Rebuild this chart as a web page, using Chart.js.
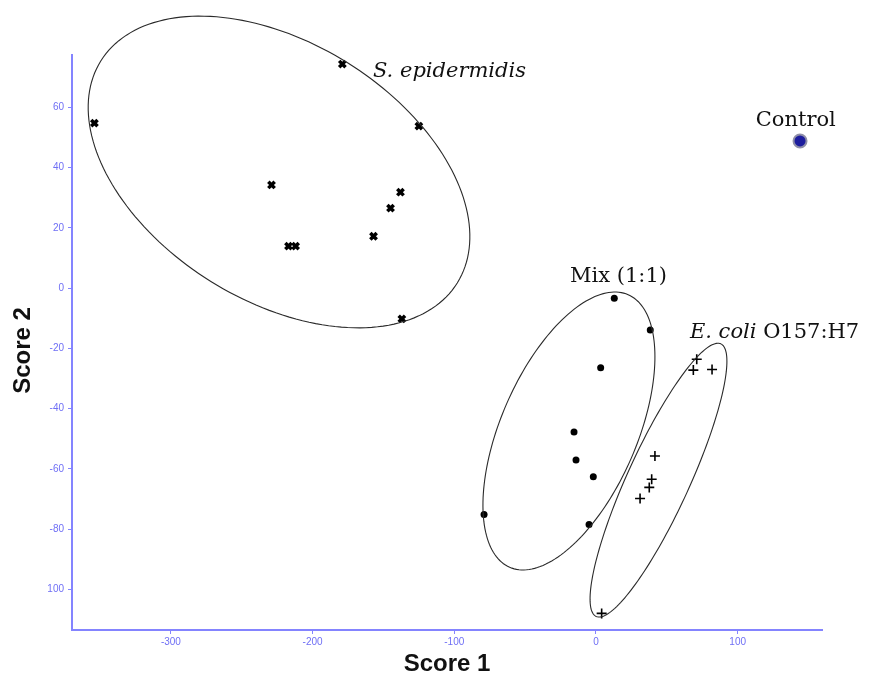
<!DOCTYPE html>
<html lang="en">
<head>
    <meta charset="UTF-8">
    <title>Score plot</title>
    <script src="https://cdn.jsdelivr.net/npm/chart.js"></script>
    <style>
        body {
            margin: 0;
            background: #ffffff;
        }
        .chart-box {
            width: 873px;
            height: 681px;
        }
    </style>
</head>
<body>
    <div class="chart-box">
        <canvas id="scoreChart"></canvas>
    </div>

    <script>
        // group scores (Score 1, Score 2)
        const epidermidisX = [-179, -354, -125, -229, -138, -145, -157, -217, -212, -137];
        const epidermidisY = [74.3, 54.7, 53.7, 34.2, 31.8, 26.5, 17.2, 13.9, 13.9, -10.2];

        const mixX = [12.9, 38.3, 3.3, -15.5, -14.1, -1.9, -79.0, -4.9];
        const mixY = [-3.4, -13.9, -26.4, -47.7, -57.0, -62.6, -75.1, -78.4];

        const ecoliX = [71.1, 68.7, 81.9, 41.6, 39.3, 37.6, 31.1, 4.0];
        const ecoliY = [-23.6, -27.2, -27.0, -55.7, -63.4, -66.1, -69.8, -107.9];

        const controlX = [144];
        const controlY = [48.8];

        // confidence ellipses: centre and two semi-axis vectors, in score units
        const ellipseCentres = [[-223.7, 38.5], [-19.1, -47.4], [44.1, -63.7]];
        const ellipseAxisA = [[125.8, -36.8], [41.8, 45.2], [44.0, 45.2]];
        const ellipseAxisB = [[-48.1, -36.3], [44.0, -9.0], [19.9, -4.3]];

        const xTicks = [-300, -200, -100, 0, 100];
        const xTickLabels = ['-300', '-200', '-100', '0', '100'];
        const yTicks = [60, 40, 20, 0, -20, -40, -60, -80, -100];
        const yTickLabels = ['60', '40', '20', '0', '-20', '-40', '-60', '-80', '100'];

        // group names, anchored at score coordinates
        const groupLabels = [
            { parts: [['S. epidermidis', true]], x: -157.4, y: 70.0, align: 'left' },
            { parts: [['Control', false]], x: 141, y: 53.7, align: 'center' },
            { parts: [['Mix (1:1)', false]], x: -18.3, y: 2.0, align: 'left' },
            { parts: [['E. coli', true], [' O157:H7', false]], x: 66.3, y: -16.6, align: 'left' }
        ];

        const axisBlue = '#8484ff';
        const tickBlue = '#6f6ff5';

        function toPoints(xs, ys) {
            return xs.map((x, i) => ({ x: x, y: ys[i] }));
        }

        const ellipsePlugin = {
            id: 'ellipses',
            afterDatasetsDraw(chart) {
                const ctx = chart.ctx;
                const xs = chart.scales.x;
                const ys = chart.scales.y;
                ctx.save();
                ctx.strokeStyle = '#2a2a2a';
                ctx.lineWidth = 1.1;
                ellipseCentres.forEach((c, i) => {
                    const cx = xs.getPixelForValue(c[0]);
                    const cy = ys.getPixelForValue(c[1]);
                    const ax = xs.getPixelForValue(c[0] + ellipseAxisA[i][0]) - cx;
                    const ay = ys.getPixelForValue(c[1] + ellipseAxisA[i][1]) - cy;
                    const bx = xs.getPixelForValue(c[0] + ellipseAxisB[i][0]) - cx;
                    const by = ys.getPixelForValue(c[1] + ellipseAxisB[i][1]) - cy;
                    ctx.beginPath();
                    for (let k = 0; k <= 180; k++) {
                        const t = k / 180 * Math.PI * 2;
                        const px = cx + ax * Math.cos(t) + bx * Math.sin(t);
                        const py = cy + ay * Math.cos(t) + by * Math.sin(t);
                        if (k === 0) ctx.moveTo(px, py); else ctx.lineTo(px, py);
                    }
                    ctx.closePath();
                    ctx.stroke();
                });
                ctx.restore();
            },
            afterDraw(chart) {
                const ctx = chart.ctx;
                const xs = chart.scales.x;
                const ys = chart.scales.y;
                const area = chart.chartArea;
                ctx.save();
                ctx.fillStyle = '#111111';
                ctx.textBaseline = 'alphabetic';
                groupLabels.forEach(lab => {
                    let px = xs.getPixelForValue(lab.x);
                    const py = ys.getPixelForValue(lab.y);
                    const fonts = lab.parts.map(p => (p[1] ? 'italic ' : '') + '21px "DejaVu Serif"');
                    let total = 0;
                    lab.parts.forEach((p, i) => { ctx.font = fonts[i]; total += ctx.measureText(p[0]).width; });
                    if (lab.align === 'center') px -= total / 2;
                    ctx.textAlign = 'left';
                    lab.parts.forEach((p, i) => {
                        ctx.font = fonts[i];
                        ctx.fillText(p[0], px, py);
                        px += ctx.measureText(p[0]).width;
                    });
                });

                // axis titles
                ctx.font = 'bold 24px "Liberation Sans"';
                ctx.textAlign = 'center';
                ctx.textBaseline = 'middle';
                ctx.fillText('Score 1', (area.left + area.right) / 2, 664);
                ctx.translate(23, (area.top + area.bottom) / 2 + 8);
                ctx.rotate(-Math.PI / 2);
                ctx.fillText('Score 2', 0, 0);
                ctx.restore();
            }
        };

        const ctx = document.getElementById('scoreChart').getContext('2d');
        new Chart(ctx, {
            type: 'scatter',
            data: {
                datasets: [
                    {
                        label: 'S. epidermidis',
                        data: toPoints(epidermidisX, epidermidisY),
                        pointStyle: 'crossRot',
                        pointRadius: 4.5,
                        borderWidth: 3.5,
                        borderColor: '#000000',
                        backgroundColor: '#000000',
                        clip: false
                    },
                    {
                        label: 'Mix (1:1)',
                        data: toPoints(mixX, mixY),
                        pointStyle: 'circle',
                        pointRadius: 3.5,
                        borderWidth: 0,
                        backgroundColor: '#000000',
                        clip: false
                    },
                    {
                        label: 'E. coli O157:H7',
                        data: toPoints(ecoliX, ecoliY),
                        pointStyle: 'cross',
                        pointRadius: 5,
                        borderWidth: 1.6,
                        borderColor: '#000000',
                        clip: false
                    },
                    {
                        label: 'Control',
                        data: toPoints(controlX, controlY),
                        pointStyle: 'circle',
                        pointRadius: 6.5,
                        borderWidth: 2,
                        borderColor: '#8f8fa8',
                        backgroundColor: '#1d1d9e',
                        clip: false
                    }
                ]
            },
            options: {
                responsive: true,
                maintainAspectRatio: false,
                animation: false,
                layout: {
                    padding: { top: 55, right: 51, left: 0, bottom: 0 }
                },
                plugins: {
                    legend: { display: false },
                    tooltip: { enabled: false }
                },
                scales: {
                    x: {
                        type: 'linear',
                        min: -369.8,
                        max: 159.5,
                        afterFit: scale => { scale.height = 51; },
                        afterBuildTicks: scale => { scale.ticks = xTicks.map(v => ({ value: v })); },
                        grid: {
                            drawOnChartArea: false,
                            drawTicks: true,
                            tickLength: 4,
                            tickColor: axisBlue,
                            tickWidth: 1
                        },
                        border: { color: axisBlue, width: 2 },
                        ticks: {
                            color: tickBlue,
                            padding: 2,
                            maxRotation: 0,
                            font: { family: 'Liberation Sans', size: 10 },
                            callback: value => xTickLabels[xTicks.indexOf(value)]
                        }
                    },
                    y: {
                        type: 'linear',
                        min: -113.4,
                        max: 77.3,
                        afterFit: scale => { scale.width = 72; },
                        afterBuildTicks: scale => { scale.ticks = yTicks.map(v => ({ value: v })); },
                        grid: {
                            drawOnChartArea: false,
                            drawTicks: true,
                            tickLength: 4,
                            tickColor: axisBlue,
                            tickWidth: 1
                        },
                        border: { color: axisBlue, width: 2 },
                        ticks: {
                            color: tickBlue,
                            padding: 4,
                            font: { family: 'Liberation Sans', size: 10 },
                            callback: value => yTickLabels[yTicks.indexOf(value)]
                        }
                    }
                }
            },
            plugins: [ellipsePlugin]
        });
    </script>
</body>
</html>
